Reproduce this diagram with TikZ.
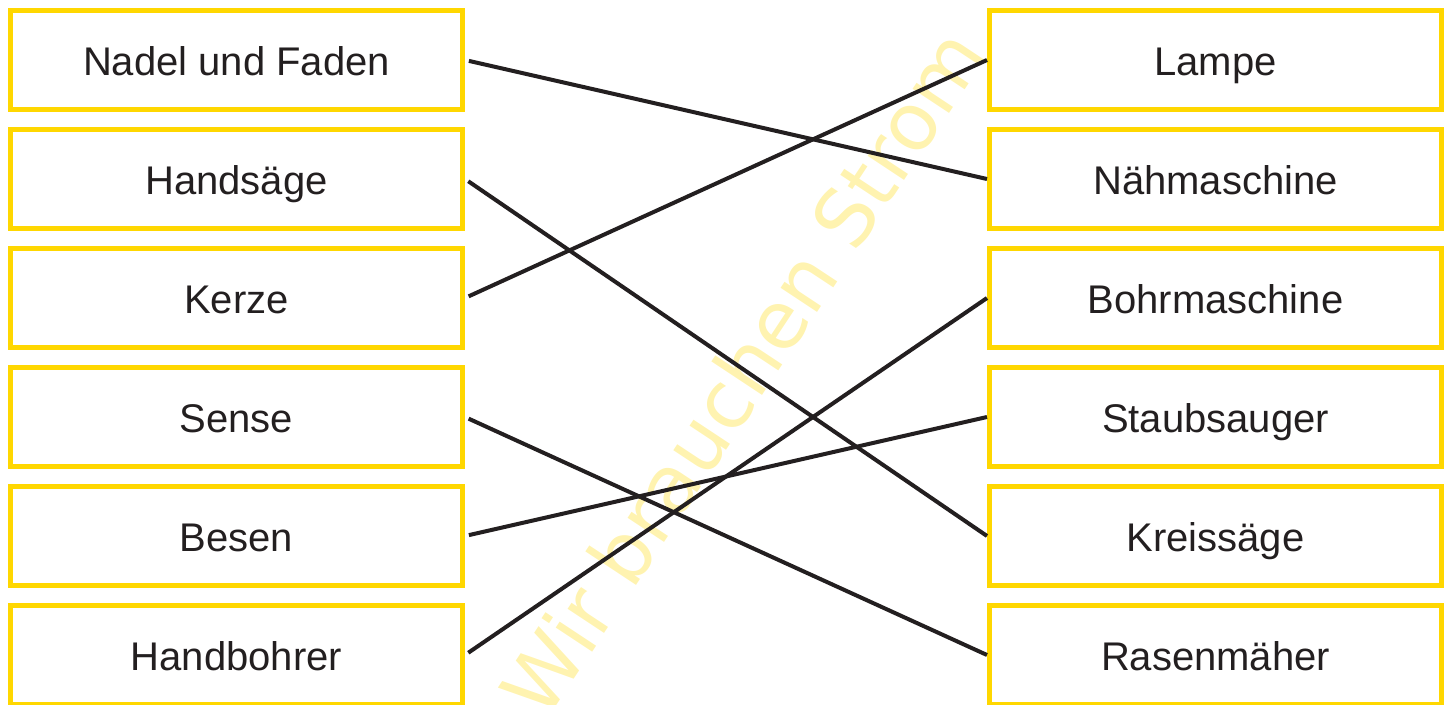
\documentclass[tikz,border=0pt]{standalone}
\usepackage{fontspec}
\setmainfont{Liberation Sans}
\newfontfamily\markfont{DejaVu Sans}
\usetikzlibrary{positioning}
\definecolor{cardyellow}{RGB}{255,215,0}
\definecolor{inkblack}{RGB}{35,31,32}
\definecolor{markyellow}{RGB}{255,243,176}

\begin{document}
\begin{tikzpicture}[x=1pt,y=-1pt,
  card/.style={draw=cardyellow,line width=5pt,minimum width=452pt,minimum height=99pt,
    inner sep=0pt,text height=31.6pt,text depth=0pt,text=inkblack,font=\fontsize{40}{40}\selectfont},
  link/.style={draw=inkblack,line width=4pt,shorten <=4pt}]
\useasboundingbox (0,0) rectangle (1448,704);
% watermark behind everything
\node[rotate=56.5,text=markyellow,font=\markfont\fontsize{80}{80}\selectfont] (mark) at (742,372) {Wir brauchen Strom};
% left column
\node[card] (nadel) at (236.5,60) {Nadel und Faden};
\node[card,below=15pt of nadel] (handsaege) {Handsäge};
\node[card,below=15pt of handsaege] (kerze) {Kerze};
\node[card,below=15pt of kerze] (sense) {Sense};
\node[card,below=15pt of sense] (besen) {Besen};
\node[card,below=15pt of besen] (handbohrer) {Handbohrer};
% right column
\node[card] (lampe) at (1215.5,60) {Lampe};
\node[card,below=15pt of lampe] (naehmaschine) {Nähmaschine};
\node[card,below=15pt of naehmaschine] (bohrmaschine) {Bohrmaschine};
\node[card,below=15pt of bohrmaschine] (staubsauger) {Staubsauger};
\node[card,below=15pt of staubsauger] (kreissaege) {Kreissäge};
\node[card,below=15pt of kreissaege] (rasenmaeher) {Rasenmäher};
% matching lines
\draw[link] (nadel.east) -- (naehmaschine.west);
\draw[link] (handsaege.east) -- (kreissaege.west);
\draw[link] (kerze.east) -- (lampe.west);
\draw[link] (sense.east) -- (rasenmaeher.west);
\draw[link] (besen.east) -- (staubsauger.west);
\draw[link] (handbohrer.east) -- (bohrmaschine.west);
\end{tikzpicture}
\end{document}
